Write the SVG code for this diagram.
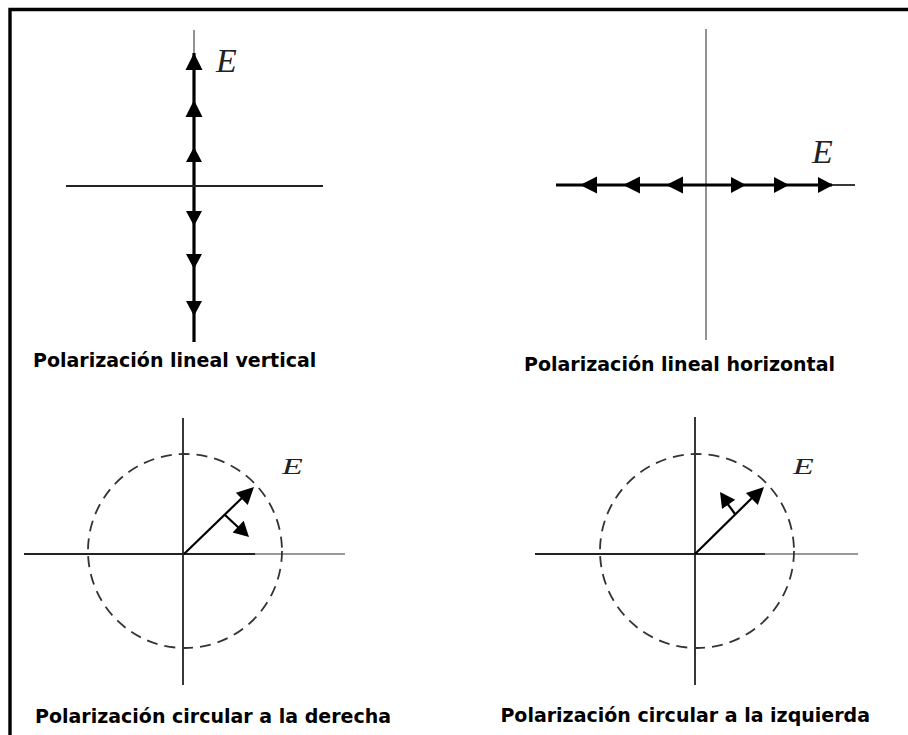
<svg xmlns="http://www.w3.org/2000/svg" xmlns:xlink="http://www.w3.org/1999/xlink" width="908" height="735" viewBox="0 0 908 735">
<style>
.bg{fill:#ffffff}
.frame{stroke:#000;stroke-width:3.4;fill:none}
.axis{stroke:#222;stroke-width:1.8;fill:none}
.axisg{stroke:#777;stroke-width:1.6;fill:none}
.thick{stroke:#000;stroke-width:3.2;fill:none}
.vec{stroke:#000;stroke-width:2.2;fill:none}
.circ{stroke:#333;stroke-width:1.8;fill:none;stroke-dasharray:11 7}
.ah{fill:#000}
.lbl{font-family:"DejaVu Sans","Liberation Sans",sans-serif;font-weight:bold;font-size:19px;fill:#000}
.e{font-family:"Liberation Serif","DejaVu Serif",serif;font-style:italic;font-size:34px;fill:#222}
</style>
<defs>
<path id="ahL" d="M0,0 L-17,-8.5 L-17,8.5 Z"/>
<path id="ahM" d="M0,0 L-15,-8 L-15,8 Z"/>
</defs>
<rect class="bg" x="0" y="0" width="908" height="735"/>
<path class="frame" d="M10,735 V9.5 H908"/>

<g id="vertical">
<line class="axisg" x1="194" y1="30" x2="194" y2="53"/>
<line class="thick" x1="194" y1="53" x2="194" y2="342"/>
<line class="axis" x1="66" y1="186" x2="323" y2="186"/>
<use class="ah" xlink:href="#ahL" transform="translate(194,53) rotate(-90)"/>
<use class="ah" xlink:href="#ahL" transform="translate(194,100) rotate(-90)"/>
<use class="ah" xlink:href="#ahM" transform="translate(194,147) rotate(-90)"/>
<use class="ah" xlink:href="#ahM" transform="translate(194,226) rotate(90)"/>
<use class="ah" xlink:href="#ahM" transform="translate(194,269) rotate(90)"/>
<use class="ah" xlink:href="#ahM" transform="translate(194,316) rotate(90)"/>
<text class="e" x="216" y="72">E</text>
<text class="lbl" x="33" y="367">Polarización lineal vertical</text>
</g>

<g id="horizontal">
<line class="axisg" x1="706" y1="29" x2="706" y2="340"/>
<line class="thick" x1="556" y1="185" x2="832" y2="185"/>
<line class="axis" x1="832" y1="185" x2="855" y2="185"/>
<use class="ah" xlink:href="#ahL" transform="translate(580,185) rotate(180)"/>
<use class="ah" xlink:href="#ahL" transform="translate(623,185) rotate(180)"/>
<use class="ah" xlink:href="#ahL" transform="translate(666,185) rotate(180)"/>
<use class="ah" xlink:href="#ahM" transform="translate(746,185)"/>
<use class="ah" xlink:href="#ahM" transform="translate(789,185)"/>
<use class="ah" xlink:href="#ahM" transform="translate(833,185)"/>
<text class="e" x="812" y="163">E</text>
<text class="lbl" x="835" y="371" text-anchor="end">Polarización lineal horizontal</text>
</g>

<g id="circular-right">
<line class="axis" x1="183" y1="418" x2="183" y2="685"/>
<line class="axis" x1="24" y1="554" x2="255" y2="554"/>
<line class="axisg" x1="255" y1="554" x2="345" y2="554"/>
<circle class="circ" cx="185" cy="551" r="97"/>
<line class="vec" x1="184" y1="554" x2="245" y2="495"/>
<use class="ah" xlink:href="#ahL" transform="translate(254,487) rotate(-44.2)"/>
<line class="vec" x1="225" y1="515" x2="240" y2="529"/>
<use class="ah" xlink:href="#ahM" transform="translate(249,537) rotate(43.7)"/>
<text class="e" transform="translate(282,474) scale(1,0.7)">E</text>
<text class="lbl" x="35" y="723">Polarización circular a la derecha</text>
</g>

<g id="circular-left">
<line class="axis" x1="695" y1="417" x2="695" y2="685"/>
<line class="axis" x1="535" y1="554" x2="765" y2="554"/>
<line class="axisg" x1="765" y1="554" x2="858" y2="554"/>
<circle class="circ" cx="697" cy="551" r="97"/>
<line class="vec" x1="695" y1="554" x2="755" y2="495"/>
<use class="ah" xlink:href="#ahL" transform="translate(764,487) rotate(-44.6)"/>
<line class="vec" x1="735" y1="514" x2="727" y2="503"/>
<use class="ah" xlink:href="#ahM" transform="translate(720,492) rotate(-125)"/>
<text class="e" transform="translate(793,474) scale(1,0.7)">E</text>
<text class="lbl" x="870" y="722" text-anchor="end">Polarización circular a la izquierda</text>
</g>
</svg>
